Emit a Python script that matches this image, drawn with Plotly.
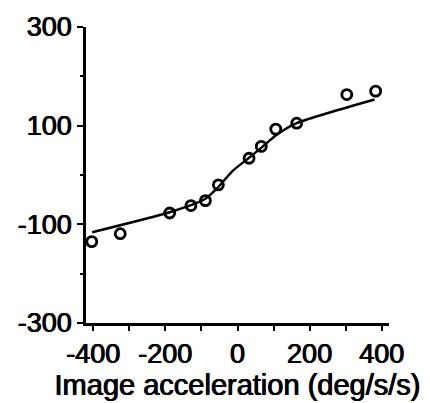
import plotly.graph_objects as go

# Observed data (open circles)
accel_pts = [-404, -325, -188, -129, -89, -53, 32, 66, 106, 164, 303, 383]
resp_pts = [-135, -119, -77, -62, -52, -20, 34, 58, 93, 105, 163, 170]

# Fitted curve
accel_fit = [-403, -186, -89, -53, -14, 32, 69, 106, 164, 380]
resp_fit = [-116, -75, -48, -24, 8, 35, 57, 80, 105, 153]

x_tickvals = [-400, -200, 0, 200, 400]
x_ticktext = ["-400", "-200", "0", "200", "400"]
y_tickvals = [-300, -100, 100, 300]
y_ticktext = ["-300", "-100", "100", "300"]

fig = go.Figure()
fig.add_trace(go.Scatter(x=accel_fit, y=resp_fit, mode="lines",
                         line=dict(color="black", width=2.4, shape="spline", smoothing=0.6),
                         showlegend=False, hoverinfo="skip"))
fig.add_trace(go.Scatter(x=accel_pts, y=resp_pts, mode="markers",
                         marker=dict(symbol="circle-open", size=10, color="black",
                                     line=dict(color="black", width=2.8)),
                         showlegend=False))

font = dict(family="Liberation Sans, Arial, sans-serif", color="black",
            shadow="0.5px 0 0 black, -0.5px 0 0 black")
fig.update_layout(
    width=430, height=403,
    margin=dict(l=86, r=41, t=27, b=80),
    paper_bgcolor="white", plot_bgcolor="white",
    font=font,
    xaxis=dict(range=[-420, 420], tickvals=x_tickvals, ticktext=x_ticktext,
               showgrid=False, zeroline=False,
               showline=True, linecolor="black", linewidth=2.5,
               ticks="outside", ticklen=5, tickwidth=2, tickcolor="black",
               minor=dict(dtick=100, tick0=0, ticks="outside", ticklen=5, tickwidth=2, tickcolor="black"),
               tickfont=dict(size=27, **font),
               title=dict(text="Image acceleration (deg/s/s)", font=dict(size=29, **font), standoff=0)),
    yaxis=dict(range=[-300, 300], tickvals=y_tickvals, ticktext=y_ticktext,
               showgrid=False, zeroline=False,
               showline=True, linecolor="black", linewidth=2.5,
               ticks="outside", ticklen=6, tickwidth=2, tickcolor="black",
               minor=dict(dtick=100, tick0=0, ticks="outside", ticklen=3, tickwidth=2, tickcolor="black"),
               tickfont=dict(size=27, **font)),
)
fig.write_html("out.html")
